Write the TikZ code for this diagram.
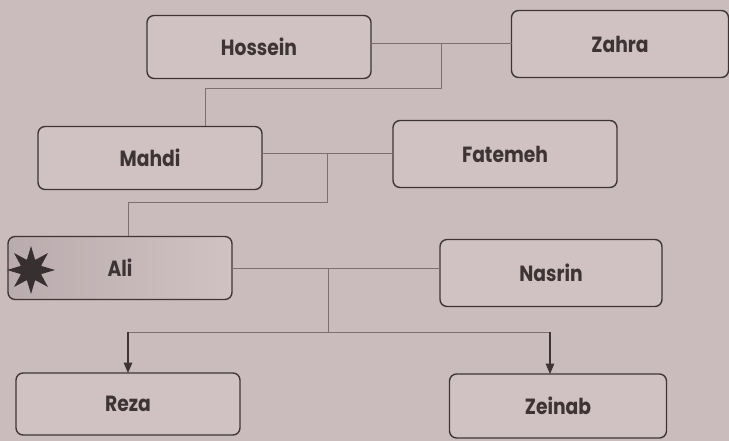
\documentclass[tikz,border=0pt]{standalone}
\usepackage{fontspec}
\setmainfont{Poppins}[FakeStretch=0.85]
\usetikzlibrary{arrows,shapes.geometric}
\definecolor{paper}{HTML}{CABBBD}
\definecolor{boxfill}{HTML}{D0C2C3}
\definecolor{ink}{HTML}{3E3436}
\definecolor{wire}{HTML}{7E6E70}
\tikzset{
    personnode/.style = {
        align=center,
        text centered,
        font=\fontsize{22}{24}\selectfont\bfseries,
        text=ink,
        rectangle,
        rounded corners=2.5mm,
        draw=ink,
        line width=1.4pt,
        fill=boxfill,
        minimum width=224pt,
        minimum height=63pt,
        inner sep=1mm,
        outer sep=0mm
    },
    selfnode/.style = {
        personnode,
        left color=paper!92!black,
        right color=boxfill
    },
    tieline/.style = {
        draw=wire,
        line width=1pt
    },
    childline/.style = {
        draw=ink,
        line width=1.4pt,
        -triangle 45
    }
}
\begin{document}
\begin{tikzpicture}[x=1pt,y=-1pt]
    \fill [paper] (0,0) rectangle (729,441);
    \useasboundingbox (0,0) rectangle (729,441);
    % grandparents
    \node [personnode] (hossein) at (259,47) {Hossein};
    \node [personnode, minimum width=217pt, minimum height=67pt] (zahra) at (620,44) {Zahra};
    % parents
    \node [personnode] (mahdi) at (150,158) {Mahdi};
    \node [personnode, minimum height=67pt] (fatemeh) at (505,154) {Fatemeh};
    \node [selfnode] (ali) at (120,268) {Ali};
    \node [star, star points=8, star point ratio=2.2, fill=ink!90!black,
           minimum size=48pt, inner sep=0pt] (mark) at (31,270) {};
    \node [personnode, minimum width=222pt, minimum height=67pt] (nasrin) at (551,273) {Nasrin};
    % children
    \node [personnode, minimum height=62pt] (reza) at (128,404) {Reza};
    \node [personnode, minimum width=217pt, minimum height=64pt] (zeinab) at (558,406) {Zeinab};

    \coordinate (kids) at (328,332);
    \draw [tieline] (hossein.east |- zahra.west) -- (zahra.west);
    \draw [tieline] (441,44) -- (441,89) -| (mahdi.north -| 205,0);
    \draw [tieline] (mahdi.east |- fatemeh.west) -- (fatemeh.west);
    \draw [tieline] (327,154) -- (327,203) -| (ali.north -| 128,0);
    \draw [tieline] (ali.east) -- (nasrin.west |- ali.east);
    \draw [tieline] (328,268) -- (kids);
    \draw [tieline] (kids -| reza.north) -- (kids -| 550,0);
    \draw [childline] (kids -| reza.north) -- (reza.north);
    \draw [childline] (kids -| 550,0) -- (zeinab.north -| 550,0);
\end{tikzpicture}
\end{document}
